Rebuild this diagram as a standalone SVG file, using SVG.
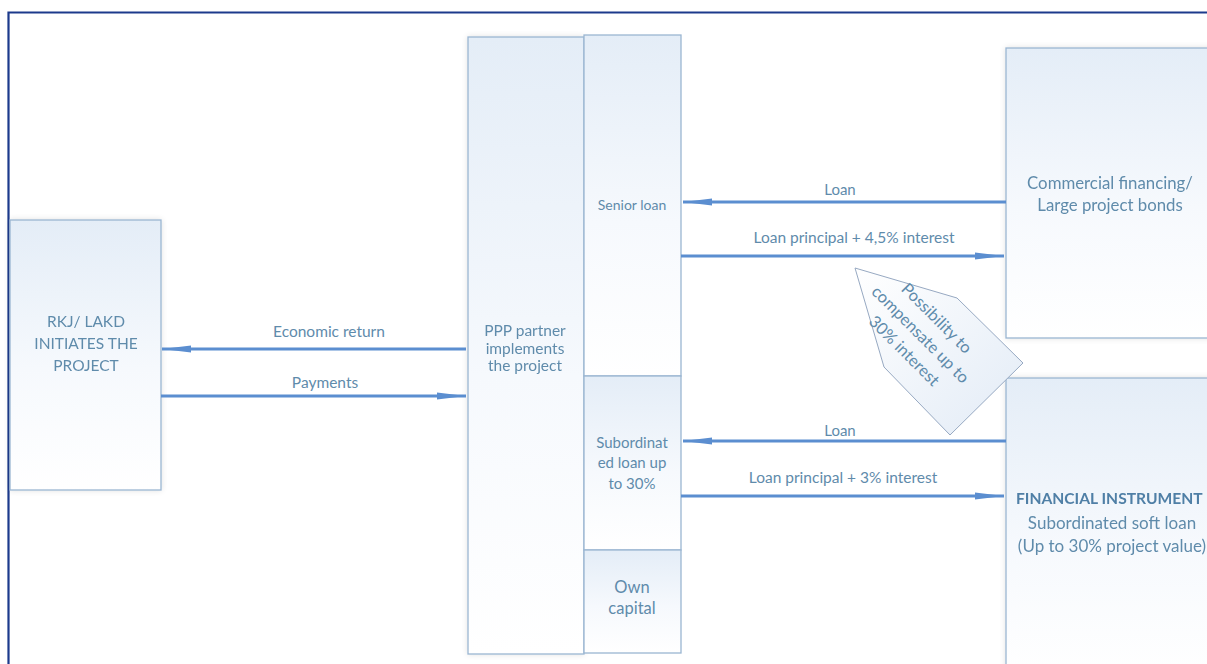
<svg xmlns="http://www.w3.org/2000/svg" width="1207" height="664" viewBox="0 0 1207 664">
  <defs>
    <linearGradient id="boxFill" x1="0" y1="0" x2="0" y2="1">
      <stop offset="0" stop-color="#e4edf7"/>
      <stop offset="0.55" stop-color="#f6f9fd"/>
      <stop offset="1" stop-color="#ffffff"/>
    </linearGradient>
    <linearGradient id="calloutFill" x1="0" y1="0" x2="1" y2="1">
      <stop offset="0" stop-color="#ffffff"/>
      <stop offset="1" stop-color="#e2ebf6"/>
    </linearGradient>
    <filter id="halo" x="-10%" y="-10%" width="120%" height="120%">
      <feGaussianBlur in="SourceAlpha" stdDeviation="3"/>
      <feComponentTransfer><feFuncA type="linear" slope="0.12"/></feComponentTransfer>
      <feMerge><feMergeNode/><feMergeNode in="SourceGraphic"/></feMerge>
    </filter>
    <marker id="head" markerUnits="userSpaceOnUse" markerWidth="32" markerHeight="12" refX="29" refY="6" orient="auto">
      <path d="M0,2.6 L29,6 L0,9.4 Z" fill="#5b8ed0"/>
    </marker>
    <style>
      .box { fill: url(#boxFill); stroke: #9ab6d2; stroke-width: 1.3; }
      .lbl { font-family: Lato, "Open Sans", sans-serif; fill: #5f8bab; text-anchor: middle; }
      .head { font-family: Lato, "Open Sans", sans-serif; fill: #4f7fa6; font-weight: bold; text-anchor: start; }
      .arr { stroke: #5b8ed0; stroke-width: 3; fill: none; marker-end: url(#head); }
      .frame { fill: none; stroke: #1c3a8c; stroke-width: 2.2; }
    </style>
  </defs>

  <rect width="1207" height="664" fill="#ffffff"/>
  <!-- page frame, runs off the right and bottom edges -->
  <path class="frame" d="M8.5,672 L8.5,12.5 L1215,12.5"/>

  <g id="rkj" filter="url(#halo)">
    <rect class="box" x="10" y="220" width="151" height="270"/>
    <text class="lbl" font-size="15.5"><tspan x="86" y="327">RKJ/ LAKD</tspan><tspan x="86" y="349">INITIATES THE</tspan><tspan x="86" y="371">PROJECT</tspan></text>
  </g>

  <g id="ppp" filter="url(#halo)">
    <rect class="box" x="468" y="37" width="116" height="617"/>
    <text class="lbl" font-size="15.5"><tspan x="525" y="336">PPP partner</tspan><tspan x="525" y="354">implements</tspan><tspan x="525" y="371">the project</tspan></text>
  </g>

  <g id="senior-loan">
    <rect class="box" x="584" y="35" width="97" height="341"/>
    <text class="lbl" font-size="14" x="632" y="210">Senior loan</text>
  </g>

  <g id="subordinated-loan">
    <rect class="box" x="584" y="376" width="97" height="174"/>
    <text class="lbl" font-size="15"><tspan x="632" y="448">Subordinat</tspan><tspan x="632" y="468">ed loan up</tspan><tspan x="632" y="489">to 30%</tspan></text>
  </g>

  <g id="own-capital">
    <rect class="box" x="584" y="550" width="97" height="103"/>
    <text class="lbl" font-size="16.5"><tspan x="632" y="593">Own</tspan><tspan x="632" y="614">capital</tspan></text>
  </g>

  <g id="commercial" filter="url(#halo)">
    <rect class="box" x="1006" y="48" width="220" height="290"/>
    <text class="lbl" font-size="16.8"><tspan x="1110" y="189">Commercial financing/</tspan><tspan x="1110" y="211">Large project bonds</tspan></text>
  </g>

  <g id="financial-instrument" filter="url(#halo)">
    <rect class="box" x="1006" y="378" width="220" height="300"/>
    <text class="head" font-size="15.6" x="1016" y="504">FINANCIAL INSTRUMENT</text>
    <text class="lbl" font-size="17"><tspan x="1112" y="529">Subordinated soft loan</tspan><tspan x="1112" y="552">(Up to 30% project value)</tspan></text>
  </g>

  <g id="callout">
    <polygon points="855,268 957,298 1023,363 950,435 884,367" fill="url(#calloutFill)" stroke="#97a9c2" stroke-width="1"/>
    <g transform="translate(920,335) rotate(45)">
      <text class="lbl" font-size="16.5"><tspan x="0" y="-18">Possibility to</tspan><tspan x="0" y="5">compensate up to</tspan><tspan x="0" y="28">30% interest</tspan></text>
    </g>
  </g>

  <g id="connectors">
    <line class="arr" x1="466" y1="349" x2="162" y2="349"/>
    <line class="arr" x1="161" y1="396" x2="466" y2="396"/>
    <line class="arr" x1="1006" y1="202" x2="683" y2="202"/>
    <line class="arr" x1="681" y1="256" x2="1004" y2="256"/>
    <line class="arr" x1="1006" y1="441" x2="683" y2="441"/>
    <line class="arr" x1="681" y1="496" x2="1004" y2="496"/>
    <text class="lbl" font-size="15.5" x="329" y="337">Economic return</text>
    <text class="lbl" font-size="15.5" x="325" y="388">Payments</text>
    <text class="lbl" font-size="15" x="840" y="195">Loan</text>
    <text class="lbl" font-size="15.5" x="854" y="243">Loan principal + 4,5% interest</text>
    <text class="lbl" font-size="15" x="840" y="436">Loan</text>
    <text class="lbl" font-size="15.5" x="843" y="483">Loan principal + 3% interest</text>
  </g>
</svg>
